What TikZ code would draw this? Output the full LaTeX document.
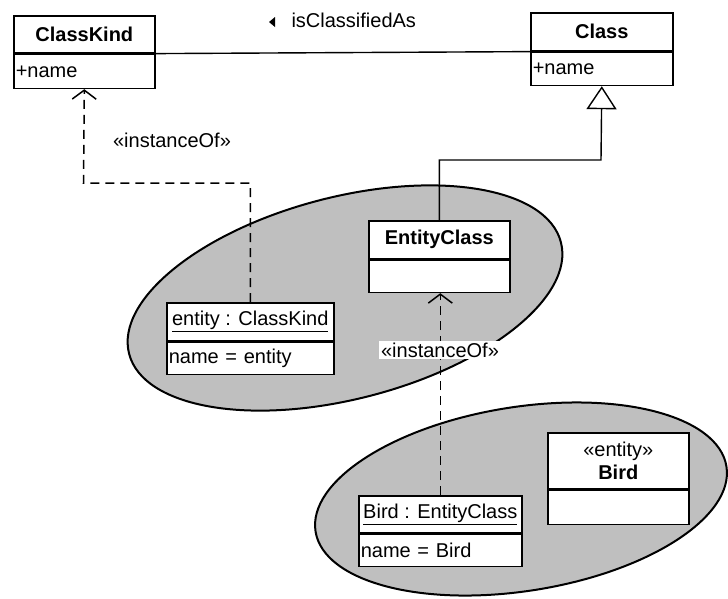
\documentclass[tikz,border=0pt]{standalone}
\usepackage{fontspec}
\setmainfont{Liberation Sans}
\usetikzlibrary{arrows.meta,calc}

\begin{document}
\begin{tikzpicture}[x=1pt,y=-1pt,
  txt/.style={font=\fontsize{20}{23}\selectfont},
  hdr/.style={draw, line width=1.6pt, fill=white, anchor=north west,
    inner sep=0pt, align=center, font=\fontsize{20}{23}\selectfont\bfseries},
  objhdr/.style={hdr, font=\fontsize{20}{23}\selectfont},
  cmp/.style={draw, line width=1.6pt, fill=white, anchor=north west,
    inner xsep=2pt, inner ysep=0pt, align=left,
    font=\fontsize{20}{23}\selectfont},
  group/.style={draw, line width=2pt, fill=black!25},
  assoc/.style={draw, line width=1.4pt},
  gen/.style={draw, line width=1.4pt, -{Triangle[open, length=23pt, width=30pt]}},
  dep/.style={draw, line width=1.5pt, dash pattern=on 9pt off 6pt,
    -{Straight Barb[length=9pt, width=24pt]}},
]
\useasboundingbox (0,0) rectangle (728,598);

% shaded groupings
\path[group, rotate around={14.5:(345,298)}] (345,298) ellipse [x radius=223, y radius=101];
\path[group, rotate around={9:(521,499)}] (521,499) ellipse [x radius=208, y radius=92];

% classes
\node[hdr, minimum width=141, minimum height=37] (ck) at (13,15) {ClassKind};
\node[cmp, minimum width=141, minimum height=34, text width=137] (ckb) at (ck.south west) {+name};

\node[hdr, minimum width=142, minimum height=38] (cls) at (530,12) {Class};
\node[cmp, minimum width=142, minimum height=33, text width=138] (clsb) at (cls.south west) {+name};

% bend points of the connectors
\coordinate (genbend) at (601,160);
\coordinate (depbend) at (83.5,183);

\node[hdr, minimum width=141, minimum height=38] (ec) at (368,220) {EntityClass};
\node[cmp, minimum width=141, minimum height=32, text width=137] (ecb) at (ec.south west) {};

\node[objhdr, minimum width=167, minimum height=38] (eck) at (166,302) {\underline{entity : ClassKind}};
\node[cmp, minimum width=167, minimum height=32, text width=163] (eckb) at (eck.south west) {name = entity};

\node[objhdr, minimum width=163, minimum height=37] (bo) at (358,495) {\underline{Bird : EntityClass}};
\node[cmp, minimum width=163, minimum height=32, text width=159] (bob) at (bo.south west) {name = Bird};

\node[hdr, minimum width=141, minimum height=56] (bird) at (547,432) {{\mdseries «entity»}\\Bird};
\node[cmp, minimum width=141, minimum height=34, text width=137] (birdb) at (bird.south west) {};

% association
\path[assoc] (ck.south east) -- (cls.south west);
\node[txt, anchor=west] (assoclbl) at (288,20) {isClassifiedAs};
\fill (269,22) -- (275,17) -- (275,27) -- cycle;

% generalization
\path[gen] (ec.north) |- (genbend) -- (clsb.south);

% instanceOf dependencies
\path[dep] (eck.north) |- (depbend) -- (ckb.south);
\node[txt] (inst1) at (172,140) {«instanceOf»};

\path[dep] (bo.north) -- (bo.north |- ecb.south);
\node[txt, fill=white, inner sep=2pt] (inst2) at (440,350) {«instanceOf»};
\end{tikzpicture}
\end{document}
